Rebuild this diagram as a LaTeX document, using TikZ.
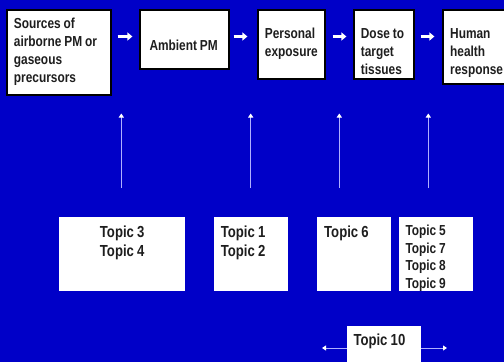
\documentclass[tikz,border=0pt]{standalone}
\usepackage{fontspec}
\setmainfont{Liberation Sans}[FakeStretch=0.82]
\usetikzlibrary{arrows.meta}
\definecolor{bgblue}{RGB}{0,0,200}
\definecolor{txt}{RGB}{30,30,30}
\definecolor{thinline}{RGB}{176,176,255}
\tikzset{
  boxw/.style={draw=black, line width=1.2pt, fill=white, inner sep=0pt},
  topicbox/.style={fill=white, inner sep=0pt},
  toptext/.style={anchor=base west, inner sep=0pt, text=txt, align=left, text width=#1,
    font=\fontsize{14.5}{18}\selectfont\bfseries, execute at begin node={\spaceskip=0.2em\relax}},
  topictext/.style={anchor=base west, inner sep=0pt, text=txt, align=left, text width=#1,
    font=\fontsize{16}{19}\selectfont\bfseries, execute at begin node={\spaceskip=0.2em\relax}},
  flowarrow/.style={white, line width=3pt, -{Triangle[length=5pt 0 0, width=8pt 0 0]}},
  uparrow/.style={thinline, line width=1pt, -{Triangle[length=4pt 0 0, width=5pt 0 0, color=white]}},
  bothways/.style={thinline, line width=1pt, {Triangle[length=4pt 0 0, width=5pt 0 0, color=white]}-{Triangle[length=4pt 0 0, width=5pt 0 0, color=white]}}
}
\begin{document}
\begin{tikzpicture}[x=1pt,y=-1pt]
\useasboundingbox (0,0) rectangle (504,362);
\fill[bgblue] (0,0) rectangle (504,362);

% top boxes
\node[boxw, minimum width=104pt, minimum height=85pt] (b1) at (59,52.5) {};
\node[boxw, minimum width=89pt, minimum height=59pt] (b2) at (184.5,39.5) {};
\node[boxw, minimum width=67pt, minimum height=69pt] (b3) at (291.5,44.5) {};
\node[boxw, minimum width=60pt, minimum height=69pt] (b4) at (384,44.5) {};
\node[boxw, minimum width=66pt, minimum height=74pt] (b5) at (476,47) {};

\node[toptext=95pt] (t1) at (13.7,28.3) {Sources of\\airborne PM or\\gaseous\\precursors};
\node[toptext=80pt] (t2) at (149.3,50) {Ambient PM};
\node[toptext=60pt] (t3) at (264.7,38.3) {Personal\\exposure};
\node[toptext=55pt] (t4) at (360.7,38.3) {Dose to\\target\\tissues};
\node[toptext=60pt] (t5) at (450,38.3) {Human\\health\\response};

% flow arrows
\draw[flowarrow, shorten <=6pt, shorten >=7pt] (b1.east |- 0,36.5) -- (b2.west |- 0,36.5);
\draw[flowarrow, shorten <=4pt, shorten >=10pt] (b2.east |- 0,36.5) -- (b3.west |- 0,36.5);
\draw[flowarrow, shorten <=7pt, shorten >=7pt] (b3.east |- 0,36.5) -- (b4.west |- 0,36.5);
\draw[flowarrow, shorten <=6pt, shorten >=8pt] (b4.east |- 0,36.5) -- (b5.west |- 0,36.5);

% vertical arrows
\coordinate (u1s) at (121.3,188); \coordinate (u1e) at (121.3,113.5);
\coordinate (u2s) at (250.7,188); \coordinate (u2e) at (250.7,113.5);
\coordinate (u3s) at (339.3,188); \coordinate (u3e) at (339.3,113.5);
\coordinate (u4s) at (428.3,188); \coordinate (u4e) at (428.3,113.5);
\draw[uparrow] (u1s) -- (u1e);
\draw[uparrow] (u2s) -- (u2e);
\draw[uparrow] (u3s) -- (u3e);
\draw[uparrow] (u4s) -- (u4e);

% bottom double arrow
\coordinate (hl) at (322,348); \coordinate (hr) at (447,348);
\draw[bothways] (hl) -- (hr);

% topic boxes
\node[topicbox, minimum width=126pt, minimum height=74pt] (c1) at (122,254) {};
\node[topicbox, minimum width=74pt, minimum height=74pt] (c2) at (251,254) {};
\node[topicbox, minimum width=74pt, minimum height=74pt] (c3) at (354,254) {};
\node[topicbox, minimum width=74pt, minimum height=74pt] (c4) at (436,254) {};
\node[topicbox, minimum width=74pt, minimum height=40pt] (c5) at (384,346) {};

\node[topictext=100pt, align=center] (d1) at (72,237.3) {Topic 3\\Topic 4};
\node[topictext=60pt] (d2) at (220.7,237.3) {Topic 1\\Topic 2};
\node[topictext=60pt] (d3) at (324,237.3) {Topic 6};
\node[topictext=60pt, font=\fontsize{14.5}{17.5}\selectfont\bfseries] (d4) at (405.3,235.7) {Topic 5\\Topic 7\\Topic 8\\Topic 9};
\node[topictext=60pt] (d5) at (353.3,345) {Topic 10};
\end{tikzpicture}
\end{document}
